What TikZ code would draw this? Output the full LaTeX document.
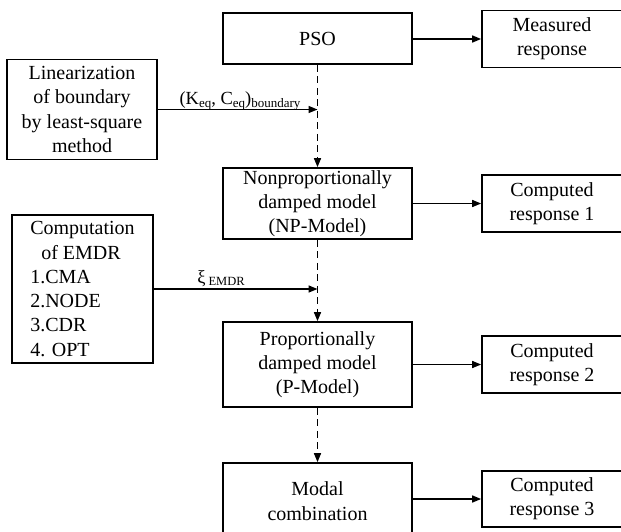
\documentclass[tikz,border=0pt]{standalone}
\usepackage{fontspec}
\setmainfont{Liberation Serif}
\usetikzlibrary{arrows.meta}
\newcommand\mysub[1]{\raisebox{-3.5pt}{\fontsize{13}{13}\selectfont #1}}
\begin{document}
\begin{tikzpicture}[x=1pt,y=-1pt,
  box/.style={draw, line width=1.7pt, inner sep=0pt, align=center,
    font=\fontsize{20}{24.3}\selectfont},
  arr/.style={line width=1.5pt, -{Triangle[length=9pt,width=7pt]}},
  darr/.style={arr, dash pattern=on 7pt off 4.5pt},
  lbl/.style={inner sep=0pt, font=\fontsize{18.5}{20}\selectfont}]
\useasboundingbox (0,0) rectangle (621,531);
\clip (0,0) rectangle (621,531);
\node[box, minimum width=189pt, minimum height=51pt] (pso) at (317.5,38.5) {PSO};
\node[box, minimum width=140pt, minimum height=57pt] (meas) at (552,39) {Measured\\response};
\node[box, minimum width=150pt, minimum height=100pt] (lin) at (82,109.5) {Linearization\\of boundary\\by least-square\\method};
\node[box, minimum width=189pt, minimum height=71pt] (np) at (317.5,203.5) {Nonproportionally\\damped model\\(NP-Model)};
\node[box, minimum width=140pt, minimum height=57pt] (cr1) at (552,203.5) {Computed\\response 1};
\node[box, align=left, minimum width=141pt, minimum height=148pt] (emdr) at (82.5,289) {Computation\\\hspace*{11pt}of EMDR\\1.CMA\\2.NODE\\3.CDR\\4. OPT};
\node[box, minimum width=189pt, minimum height=85pt] (pm) at (317.5,364.5) {Proportionally\\damped model\\(P-Model)};
\node[box, minimum width=140pt, minimum height=57pt] (cr2) at (552,364.5) {Computed\\response 2};
\node[box, minimum width=189pt, minimum height=76pt] (mc) at (317.5,501) {Modal\\combination};
\node[box, minimum width=140pt, minimum height=56pt] (cr3) at (552,499) {Computed\\response 3};
\coordinate (j1) at (pso.south |- lin.east);
\coordinate (j2) at (np.south |- emdr.east);
\draw[arr] (pso.east |- meas.west) -- (meas.west);
\draw[arr] (np.east) -- (cr1.west);
\draw[arr] (pm.east) -- (cr2.west);
\draw[arr] (mc.east |- cr3.west) -- (cr3.west);
\draw[arr] (lin.east) -- (j1);
\draw[arr] (emdr.east) -- (j2);
\draw[darr] (pso.south) -- (np.north);
\draw[darr] (np.south) -- (pm.north);
\draw[darr] (pm.south) -- (mc.north);
\node[lbl] (lab1) at (240,101) {(K\mysub{eq}, C\mysub{eq})\mysub{boundary}};
\node[lbl] (lab2) at (221,279) {ξ\,\raisebox{-2pt}{\fontsize{12.5}{12.5}\selectfont EMDR}};
\end{tikzpicture}
\end{document}
